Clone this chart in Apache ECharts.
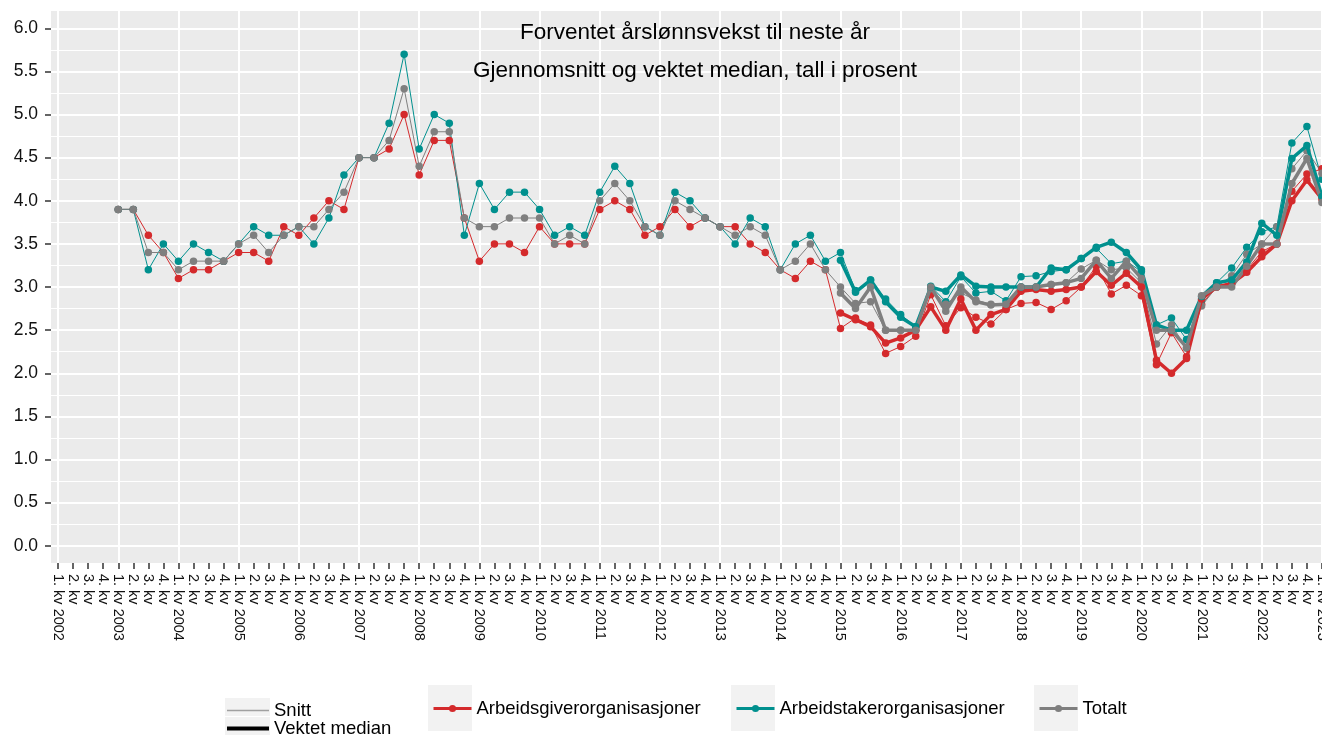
<!DOCTYPE html>
<html>
<head>
<meta charset="utf-8">
<script src="https://cdn.jsdelivr.net/npm/echarts@6/dist/echarts.min.js"></script>
<style>
  html, body { margin: 0; padding: 0; background: #fff; }
  #chart { width: 1322px; height: 735px; }
</style>
</head>
<body>
<div id="chart"></div>
<script>
// quarters on the x axis
const years = [2002, 2003, 2004, 2005, 2006, 2007, 2008, 2009, 2010, 2011, 2012,
  2013, 2014, 2015, 2016, 2017, 2018, 2019, 2020, 2021, 2022, 2023];
const quarters = ['1. kv', '2. kv', '3. kv', '4. kv'];
const yTicks = [0, 0.5, 1, 1.5, 2, 2.5, 3, 3.5, 4, 4.5, 5, 5.5, 6];
const yMinor = [0.25, 0.75, 1.25, 1.75, 2.25, 2.75, 3.25, 3.75, 4.25, 4.75, 5.25, 5.75];

const seriesNames = ['Arbeidsgiverorganisasjoner', 'Arbeidstakerorganisasjoner', 'Totalt'];
const seriesColors = ['#d42a2c', '#00908e', '#7f7f7f'];

// Snitt: 1. kv 2003 -> 1. kv 2023
const snittStart = 4;
const snittGiver = [
  3.9, 3.9, 3.6, 3.4, 3.1, 3.2, 3.2, 3.3,
  3.4, 3.4, 3.3, 3.7, 3.6, 3.8, 4.0, 3.9,
  4.5, 4.5, 4.6, 5.0, 4.3, 4.7, 4.7, 3.8,
  3.3, 3.5, 3.5, 3.4, 3.7, 3.5, 3.5, 3.5,
  3.9, 4.0, 3.9, 3.6, 3.7, 3.9, 3.7, 3.8,
  3.7, 3.7, 3.5, 3.4, 3.2, 3.1, 3.3, 3.2,
  2.52, 2.64, 2.56, 2.23, 2.31, 2.43, 2.91, 2.55,
  2.76, 2.65, 2.57, 2.74, 2.81, 2.82, 2.74, 2.84,
  3.00, 3.24, 2.92, 3.02, 2.90, 2.10, 2.47, 2.19,
  2.80, 3.00, 3.04, 3.20, 3.41, 3.50, 4.11, 4.31, 4.37
];
const snittTaker = [
  3.9, 3.9, 3.2, 3.5, 3.3, 3.5, 3.4, 3.3,
  3.5, 3.7, 3.6, 3.6, 3.7, 3.5, 3.8, 4.3,
  4.5, 4.5, 4.9, 5.7, 4.6, 5.0, 4.9, 3.6,
  4.2, 3.9, 4.1, 4.1, 3.9, 3.6, 3.7, 3.6,
  4.1, 4.4, 4.2, 3.7, 3.6, 4.1, 4.0, 3.8,
  3.7, 3.5, 3.8, 3.7, 3.2, 3.5, 3.6, 3.3,
  3.40, 2.96, 3.08, 2.86, 2.68, 2.54, 3.01, 2.83,
  3.12, 2.93, 2.95, 2.84, 3.12, 3.13, 3.18, 3.20,
  3.33, 3.45, 3.27, 3.30, 3.18, 2.56, 2.64, 2.39,
  2.85, 3.05, 3.22, 3.46, 3.64, 3.70, 4.67, 4.86, 4.25
];
const snittTotal = [
  3.9, 3.9, 3.4, 3.4, 3.2, 3.3, 3.3, 3.3,
  3.5, 3.6, 3.4, 3.6, 3.7, 3.7, 3.9, 4.1,
  4.5, 4.5, 4.7, 5.3, 4.4, 4.8, 4.8, 3.8,
  3.7, 3.7, 3.8, 3.8, 3.8, 3.5, 3.6, 3.5,
  4.0, 4.2, 4.0, 3.7, 3.6, 4.0, 3.9, 3.8,
  3.7, 3.6, 3.7, 3.6, 3.2, 3.3, 3.5, 3.2,
  3.00, 2.81, 2.83, 2.50, 2.50, 2.50, 2.98, 2.80,
  2.93, 2.85, 2.80, 2.78, 3.00, 3.00, 3.03, 3.05,
  3.21, 3.31, 3.20, 3.22, 3.05, 2.34, 2.56, 2.29,
  2.78, 3.00, 3.13, 3.38, 3.50, 3.70, 4.37, 4.58, 4.32
];

// Vektet median: 1. kv 2015 -> 1. kv 2023
const medianStart = 52;
const medianGiver = [
  2.70, 2.62, 2.54, 2.35, 2.41, 2.50, 2.77, 2.50,
  2.86, 2.50, 2.68, 2.74, 2.95, 2.97, 2.95, 2.97,
  3.00, 3.18, 3.02, 3.16, 3.00, 2.15, 2.00, 2.17,
  2.86, 3.00, 3.04, 3.17, 3.35, 3.50, 4.00, 4.24, 4.02
];
const medianTaker = [
  3.31, 2.94, 3.08, 2.83, 2.65, 2.54, 3.00, 2.95,
  3.14, 3.01, 3.00, 3.00, 3.00, 3.00, 3.22, 3.20,
  3.33, 3.46, 3.52, 3.40, 3.20, 2.56, 2.50, 2.50,
  2.89, 3.05, 3.08, 3.29, 3.74, 3.60, 4.49, 4.64, 4.05
];
const medianTotal = [
  2.93, 2.75, 3.00, 2.50, 2.50, 2.50, 3.00, 2.72,
  3.00, 2.83, 2.79, 2.80, 3.00, 3.00, 3.03, 3.05,
  3.10, 3.31, 3.10, 3.30, 3.10, 2.50, 2.50, 2.30,
  2.90, 3.00, 3.00, 3.24, 3.50, 3.50, 4.20, 4.49, 3.98
];

const xLabels = [];
years.forEach(y => quarters.forEach((q, k) => xLabels.push(k === 0 ? q + ' ' + y : q)));
const xMin = -0.47, xMax = 85;
const quarterIdx = xLabels.map((_, i) => i).filter(i => i <= xMax);
const yearIdx = quarterIdx.filter(i => i % 4 === 0);

const toPoints = (arr, start) => arr.map((v, k) => [start + k, v]);

const font = "'Liberation Sans', Arial, sans-serif";
const chart = echarts.init(document.getElementById('chart'));

const snittSets = [snittGiver, snittTaker, snittTotal];
const medianSets = [medianGiver, medianTaker, medianTotal];

const series = [];
snittSets.forEach((arr, k) => series.push({
  name: seriesNames[k], type: 'line', z: 2,
  data: toPoints(arr, snittStart),
  symbol: 'circle', symbolSize: 7.5,
  itemStyle: { color: seriesColors[k] },
  lineStyle: { color: seriesColors[k], width: 1 },
  emphasis: { disabled: true }, animation: false
}));
medianSets.forEach((arr, k) => series.push({
  name: seriesNames[k], type: 'line', z: 3,
  data: toPoints(arr, medianStart),
  symbol: 'circle', symbolSize: 7.5,
  itemStyle: { color: seriesColors[k] },
  lineStyle: { color: seriesColors[k], width: 3.5 },
  emphasis: { disabled: true }, animation: false
}));
series.push({ name: 'Snitt', type: 'line', data: [], symbol: 'none',
  itemStyle: { color: '#a0a0a0' }, lineStyle: { color: '#a0a0a0', width: 1.5 } });
series.push({ name: 'Vektet median', type: 'line', data: [], symbol: 'none',
  itemStyle: { color: '#000' }, lineStyle: { color: '#000', width: 4 } });

const legendText = { fontSize: 18.5, color: '#000', fontFamily: font };
const colorLegend = (k, left) => ({
  data: [seriesNames[k]], left: left, top: 699, padding: 0,
  itemWidth: 38, itemHeight: 9,
  lineStyle: { width: 3 },
  textStyle: legendText, selectedMode: false
});

chart.setOption({
  animation: false,
  textStyle: { fontFamily: font },
  title: [
    { text: 'Forventet årslønnsvekst til neste år', left: 690, top: 16, textAlign: 'center',
      textStyle: { fontSize: 22.5, fontWeight: 'normal', color: '#000', fontFamily: font } },
    { text: 'Gjennomsnitt og vektet median, tall i prosent', left: 690, top: 54, textAlign: 'center',
      textStyle: { fontSize: 22.5, fontWeight: 'normal', color: '#000', fontFamily: font } }
  ],
  grid: { left: 51, top: 11, width: 1286, height: 552, show: true,
    backgroundColor: '#ebebeb', borderWidth: 0, outerBoundsMode: 'none', containLabel: false },
  xAxis: [{
    type: 'value', min: xMin, max: xMax, position: 'bottom',
    axisLine: { show: false, onZero: false },
    axisTick: { show: true, length: 6, customValues: quarterIdx,
      lineStyle: { color: '#333', width: 1.5 } },
    axisLabel: { customValues: quarterIdx, rotate: -90, margin: 11,
      fontSize: 14.5, color: '#111', fontFamily: font,
      formatter: v => xLabels[v] },
    splitLine: { show: false }
  }, {
    type: 'value', min: xMin, max: xMax, position: 'top',
    axisLine: { show: false, onZero: false }, axisLabel: { show: false },
    axisTick: { show: false, customValues: yearIdx },
    splitLine: { show: true, lineStyle: { color: '#fff', width: 2 } }
  }],
  yAxis: [{
    type: 'value', min: -0.2, max: 6.2, position: 'left',
    axisLine: { show: false, onZero: false },
    axisTick: { show: true, length: 6, customValues: yTicks,
      lineStyle: { color: '#333', width: 1.5 } },
    axisLabel: { customValues: yTicks, margin: 13, fontSize: 17.5, color: '#111',
      fontFamily: font, formatter: v => v.toFixed(1) },
    splitLine: { show: true, lineStyle: { color: '#fff', width: 2 } }
  }, {
    type: 'value', min: -0.2, max: 6.2, position: 'right',
    axisLine: { show: false, onZero: false }, axisLabel: { show: false },
    axisTick: { show: false, customValues: yMinor },
    splitLine: { show: true, lineStyle: { color: '#fff', width: 1 } }
  }],
  legend: [
    { data: ['Snitt'], left: 227, top: 701, padding: 0, icon: 'rect', itemWidth: 42, itemHeight: 1.5,
      textStyle: legendText, selectedMode: false },
    { data: ['Vektet median'], left: 227, top: 719, padding: 0, icon: 'rect', itemWidth: 42, itemHeight: 4,
      textStyle: legendText, selectedMode: false },
    colorLegend(0, 432),
    colorLegend(1, 735),
    colorLegend(2, 1038)
  ],
  graphic: [
    { type: 'rect', z: -1, shape: { x: 225, y: 698, width: 45, height: 18 }, style: { fill: '#f2f2f2' } },
    { type: 'rect', z: -1, shape: { x: 225, y: 717, width: 45, height: 18 }, style: { fill: '#f2f2f2' } },
    { type: 'rect', z: -1, shape: { x: 428, y: 685, width: 44, height: 46 }, style: { fill: '#f2f2f2' } },
    { type: 'rect', z: -1, shape: { x: 731, y: 685, width: 44, height: 46 }, style: { fill: '#f2f2f2' } },
    { type: 'rect', z: -1, shape: { x: 1034, y: 685, width: 44, height: 46 }, style: { fill: '#f2f2f2' } }
  ],
  series: series
});

window.addEventListener('resize', () => chart.resize());
</script>
</body>
</html>
